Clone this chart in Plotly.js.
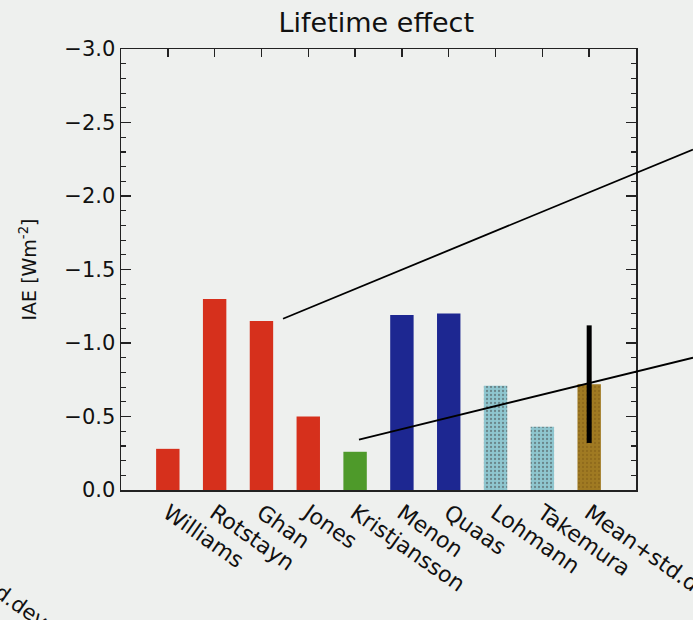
<!DOCTYPE html>
<html>
<head>
<meta charset="utf-8">
<script src="https://cdn.plot.ly/plotly-3.0.1.min.js"></script>
<style>html,body{margin:0;padding:0;background:#eef0ee;}</style>
</head>
<body>
<div id="chart" style="width:693px;height:620px;"></div>
<script>
// Data
const models = ["Williams", "Rotstayn", "Ghan", "Jones", "Kristjansson", "Menon", "Quaas", "Lohmann", "Takemura"];
const values = [-0.28, -1.30, -1.15, -0.50, -0.26, -1.19, -1.20, -0.71, -0.43];
const barColors = ["#d6301c", "#d6301c", "#d6301c", "#d6301c", "#4e9a2a", "#1d2791", "#1d2791", "#8fc6cf", "#8fc6cf"];
const meanLabel = ["Mean+std.dev"];
const meanValue = [-0.72];
const meanStd = [0.40];
const yTicks = [-3.0, -2.5, -2.0, -1.5, -1.0, -0.5, 0.0];
const yTickText = ["\u22123.0", "\u22122.5", "\u22122.0", "\u22121.5", "\u22121.0", "\u22120.5", "0.0"];

const font = "DejaVu Sans, sans-serif";

const traces = [
  {
    type: "bar",
    x: models,
    y: values,
    width: 0.5,
    marker: {
      color: barColors,
      line: {width: 0},
      pattern: {
        shape: barColors.map(c => c === "#8fc6cf" ? "." : ""),
        fillmode: "overlay",
        fgcolor: "#aad8de",
        size: 4,
        solidity: 0.25
      }
    },
    showlegend: false
  },
  {
    type: "bar",
    x: meanLabel,
    y: meanValue,
    width: 0.5,
    marker: {
      color: "#a07a22",
      line: {width: 0},
      pattern: {shape: ".", fillmode: "overlay", fgcolor: "#7e5c16", size: 4, solidity: 0.25}
    },
    error_y: {type: "data", array: meanStd, visible: true, color: "#000000", thickness: 5, width: 0},
    showlegend: false
  }
];

const layout = {
  width: 693,
  height: 620,
  margin: {l: 121, r: 57, t: 49, b: 130},
  paper_bgcolor: "#eef0ee",
  plot_bgcolor: "#eef0ee",
  font: {family: font, color: "#111111", size: 21},
  title: {
    text: "Lifetime effect",
    font: {family: font, size: 27, color: "#111111"},
    x: 0.543, xanchor: "center", y: 0.963, yanchor: "middle"
  },
  xaxis: {
    type: "category",
    categoryorder: "array",
    categoryarray: models.concat(meanLabel),
    range: [-1, 10],
    showgrid: false,
    zeroline: false,
    showline: true,
    linecolor: "#222222",
    linewidth: 1.5,
    mirror: "ticks",
    ticks: "inside",
    ticklen: 8,
    tickwidth: 1.5,
    tickcolor: "#222222",
    tickangle: 35,
    tickfont: {family: font, size: 22, color: "#111111"},
    layer: "below traces",
    fixedrange: true
  },
  yaxis: {
    range: [0, -3],
    tickvals: yTicks,
    ticktext: yTickText,
    showgrid: false,
    zeroline: false,
    showline: true,
    linecolor: "#222222",
    linewidth: 1.5,
    mirror: "ticks",
    ticks: "inside",
    ticklen: 10,
    tickwidth: 1.5,
    tickcolor: "#222222",
    tickfont: {family: font, size: 21, color: "#111111"},
    minor: {ticks: "inside", ticklen: 5, dtick: 0.1, tickwidth: 1.2, tickcolor: "#222222", showgrid: false},
    title: {text: "IAE [Wm<sup>-2</sup>]", font: {family: font, size: 19, color: "#111111"}, standoff: 22},
    fixedrange: true
  },
  shapes: [
    {type: "line", xref: "paper", yref: "paper", x0: 0.3146, y0: 0.3884, x1: 1.1107, y1: 0.772, line: {color: "#000000", width: 1.8}},
    {type: "line", xref: "paper", yref: "paper", x0: 0.4621, y0: 0.1144, x1: 1.1107, y1: 0.300, line: {color: "#000000", width: 1.8}}
  ],
  annotations: [
    {xref: "paper", yref: "paper", x: -0.2097, y: -0.2525, text: "std.dev", showarrow: false, textangle: 35,
     font: {family: font, size: 21, color: "#111111"}, xanchor: "center", yanchor: "middle"}
  ]
};

Plotly.newPlot("chart", traces, layout, {displayModeBar: false, staticPlot: true});
</script>
</body>
</html>
